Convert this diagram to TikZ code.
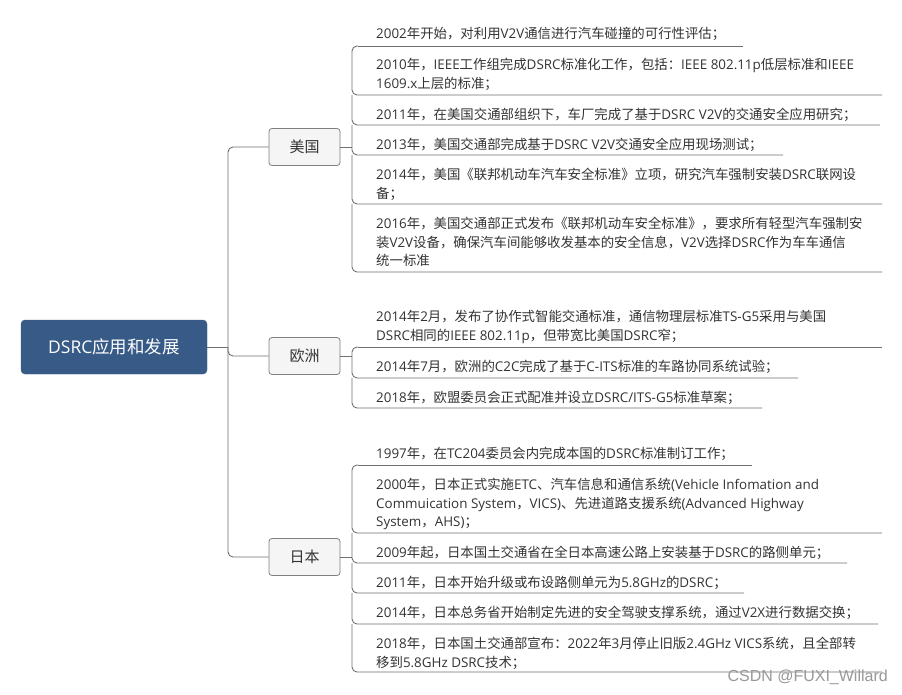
\documentclass[tikz,border=0pt]{standalone}
\usepackage{fontspec}
\setmainfont{Open Sans}
\newfontfamily\latinf{Open Sans}
\newfontfamily\cjkf{Noto Sans CJK SC}
\newfontfamily\wmfont{Liberation Sans}
\newcount\cjkcc
\cjkcc="4E00 \loop \XeTeXcharclass\cjkcc=1 \advance\cjkcc by 1 \ifnum\cjkcc<"A000 \repeat
\cjkcc="3000 \loop \XeTeXcharclass\cjkcc=1 \advance\cjkcc by 1 \ifnum\cjkcc<"3040 \repeat
\cjkcc="FF00 \loop \XeTeXcharclass\cjkcc=1 \advance\cjkcc by 1 \ifnum\cjkcc<"FFF0 \repeat
\XeTeXinterchartokenstate=1
\XeTeXinterchartoks 0 1 = {\cjkf}
\XeTeXinterchartoks 4095 1 = {\cjkf}
\XeTeXinterchartoks 1 0 = {\latinf}
\XeTeXinterchartoks 4095 0 = {\latinf}
\newcommand\wmsetup{\XeTeXinterchartokenstate=0\relax\wmfont\fontsize{16}{18}\selectfont}
\definecolor{rootblue}{HTML}{375A86}
\definecolor{linegray}{HTML}{707070}
\definecolor{boxfill}{HTML}{F5F5F5}
\definecolor{boxline}{HTML}{808080}
\definecolor{txt}{HTML}{333333}
\tikzset{
  rootbox/.style={fill=rootblue, draw=rootblue, rounded corners=4pt, minimum width=186pt, minimum height=54pt, inner sep=0pt, text=white, font=\fontsize{17.5}{20}\selectfont},
  countrybox/.style={fill=boxfill, draw=boxline, line width=0.8pt, rounded corners=3pt, minimum width=71pt, minimum height=37pt, inner sep=0pt, text=txt, font=\fontsize{15}{18}\selectfont},
  leaf/.style={anchor=north west, inner sep=0pt, align=left, text=txt, font=\fontsize{13.4}{18.5}\selectfont, execute at begin node=\vphantom{年}},
  link/.style={draw=linegray, line width=0.9pt, rounded corners=5pt},
}
\begin{document}
\begin{tikzpicture}[x=1pt,y=-1pt]
\useasboundingbox (0,0) rectangle (902,694);
\fill[white] (0,0) rectangle (902,694);

% root and countries
\node[rootbox] (root) at (114,347) {DSRC应用和发展};
\node[countrybox] (us) at (304.5,147) {美国};
\node[countrybox] (eu) at (304.5,356) {欧洲};
\node[countrybox] (jp) at (304.5,557) {日本};

% trunk
\coordinate (tk) at (228,347);
\coordinate (tkus) at (228,147);
\coordinate (tkjp) at (228,557);
\coordinate (tkeu) at (228,356);
\draw[link] (root.east) -- (tk);
\draw[link] (us.west) -- (tkus) -- (tk);
\draw[link] (jp.west) -- (tkjp) -- (tk);
\draw[link] (tk) -- (tkeu) -- (eu.west);

% ---------- USA ----------
\node[leaf] (us1) at (376,27) {2002年开始，对利用V2V通信进行汽车碰撞的可行性评估；};
\node[leaf] (us2) at (376,58) {2010年，IEEE工作组完成DSRC标准化工作，包括：IEEE 802.11p低层标准和IEEE\\1609.x上层的标准；};
\node[leaf] (us3) at (376,107.5) {2011年，在美国交通部组织下，车厂完成了基于DSRC V2V的交通安全应用研究；};
\node[leaf] (us4) at (376,138) {2013年，美国交通部完成基于DSRC V2V交通安全应用现场测试；};
\node[leaf] (us5) at (376,168) {2014年，美国《联邦机动车汽车安全标准》立项，研究汽车强制安装DSRC联网设\\备；};
\node[leaf] (us6) at (376,217) {2016年，美国交通部正式发布《联邦机动车安全标准》，要求所有轻型汽车强制安\\装V2V设备，确保汽车间能够收发基本的安全信息，V2V选择DSRC作为车车通信\\统一标准};

\coordinate (usa0) at (358,46);
\coordinate (usl1) at (352,46);  \coordinate (use1) at (743,46);
\coordinate (usl2) at (352,95);  \coordinate (use2) at (882,95);
\coordinate (usl3) at (352,125); \coordinate (use3) at (880,125);
\coordinate (usl4) at (352,155); \coordinate (use4) at (783,155);
\coordinate (usl5) at (352,204); \coordinate (use5) at (882,204);
\coordinate (usl6) at (352,272); \coordinate (use6) at (882,272);
\coordinate (usj) at (352,147);
\draw[link] (usa0) -- (use1);
\draw[link] (usa0) -- (usl1) -- (usl2) -- (use2);
\draw[link] (usl2) -- (usl3) -- (use3);
\draw[link] (usl3) -- (usl4) -- (use4);
\draw[link] (usl4) -- (usl5) -- (use5);
\draw[link] (usl5) -- (usl6) -- (use6);
\draw[link] (us.east) -- (usj);

% ---------- Europe ----------
\node[leaf] (eu1) at (376,310) {2014年2月，发布了协作式智能交通标准，通信物理层标准TS-G5采用与美国\\DSRC相同的IEEE 802.11p，但带宽比美国DSRC窄；};
\node[leaf] (eu2) at (376,360) {2014年7月，欧洲的C2C完成了基于C-ITS标准的车路协同系统试验；};
\node[leaf] (eu3) at (376,390.5) {2018年，欧盟委员会正式配准并设立DSRC/ITS-G5标准草案；};

\coordinate (eua0) at (358,347);
\coordinate (eul1) at (352,347); \coordinate (eue1) at (882,347);
\coordinate (eul2) at (352,378); \coordinate (eue2) at (798,378);
\coordinate (eul3) at (352,408); \coordinate (eue3) at (762,408);
\coordinate (euj) at (352,356);
\draw[link] (eua0) -- (eue1);
\draw[link] (eua0) -- (eul1) -- (eul2) -- (eue2);
\draw[link] (eul2) -- (eul3) -- (eue3);
\draw[link] (eu.east) -- (euj);

% ---------- Japan ----------
\node[leaf] (jp1) at (376,447) {1997年，在TC204委员会内完成本国的DSRC标准制订工作；};
\node[leaf] (jp2) at (376,478) {2000年，日本正式实施ETC、汽车信息和通信系统(Vehicle Infomation and\\Commuication System，VICS)、先进道路支援系统(Advanced Highway\\System，AHS)；};
\node[leaf] (jp3) at (376,545.5) {2009年起，日本国土交通省在全日本高速公路上安装基于DSRC的路侧单元；};
\node[leaf] (jp4) at (376,575.5) {2011年，日本开始升级或布设路侧单元为5.8GHz的DSRC；};
\node[leaf] (jp5) at (376,606) {2014年，日本总务省开始制定先进的安全驾驶支撑系统，通过V2X进行数据交换；};
\node[leaf] (jp6) at (376,637) {2018年，日本国土交通部宣布：2022年3月停止旧版2.4GHz VICS系统，且全部转\\移到5.8GHz DSRC技术；};

\coordinate (jpa0) at (358,465);
\coordinate (jpl1) at (352,465); \coordinate (jpe1) at (752,465);
\coordinate (jpl2) at (352,533); \coordinate (jpe2) at (882,533);
\coordinate (jpl3) at (352,563); \coordinate (jpe3) at (847,563);
\coordinate (jpl4) at (352,593); \coordinate (jpe4) at (744,593);
\coordinate (jpl5) at (352,624); \coordinate (jpe5) at (878,624);
\coordinate (jpl6) at (352,672); \coordinate (jpe6) at (882,672);
\coordinate (jpj) at (352,557);
\draw[link] (jpa0) -- (jpe1);
\draw[link] (jpa0) -- (jpl1) -- (jpl2) -- (jpe2);
\draw[link] (jpl2) -- (jpl3) -- (jpe3);
\draw[link] (jpl3) -- (jpl4) -- (jpe4);
\draw[link] (jpl4) -- (jpl5) -- (jpe5);
\draw[link] (jpl5) -- (jpl6) -- (jpe6);
\draw[link] (jp.east) -- (jpj);

% watermark
\node[anchor=east, inner sep=0pt, text=black!40, font=\wmsetup] (wm) at (888,677) {CSDN @FUXI\_Willard};
\end{tikzpicture}
\end{document}
